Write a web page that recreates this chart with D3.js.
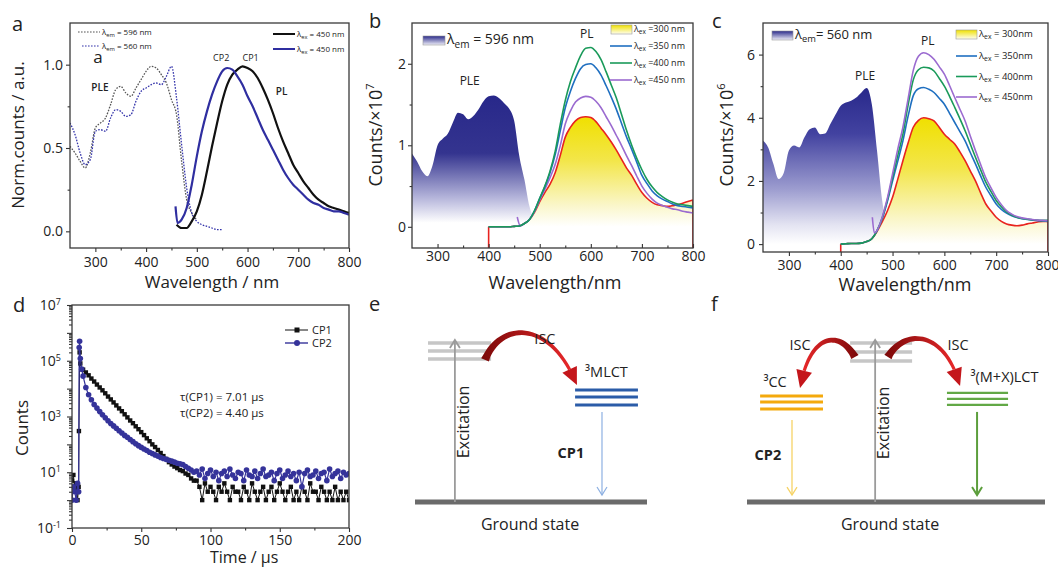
<!DOCTYPE html>
<html>
<head>
<meta charset="utf-8">
<script src="https://cdn.jsdelivr.net/npm/d3@7"></script>
<style>
  body { margin: 0; background: #fff; }
  svg { font-family: "Open Sans", sans-serif; }
</style>
</head>
<body>
<svg id="fig" width="1058" height="570"></svg>
<script>
// ---------- panel a : normalised PLE / PL ----------
var wlA596 = d3.range(250, 501, 10);
var pleA596 = [0.51, 0.47, 0.42, 0.38, 0.47, 0.62, 0.65, 0.68, 0.76, 0.85, 0.87, 0.83, 0.81, 0.86, 0.91, 0.96, 0.99, 0.98, 0.94, 0.89, 0.79, 0.70, 0.42, 0.19, 0.11, 0.07];
var wlA560 = d3.range(250, 551, 10);
var pleA560 = [0.65, 0.58, 0.47, 0.40, 0.43, 0.60, 0.61, 0.60, 0.68, 0.73, 0.72, 0.69, 0.70, 0.78, 0.84, 0.86, 0.88, 0.89, 0.88, 0.93, 0.99, 0.80, 0.52, 0.26, 0.11, 0.06, 0.04, 0.03, 0.02, 0.01, 0.01];
var wlA_cp1 = d3.range(460, 801, 10);
var plA_cp1 = [0.04, 0.02, 0.02, 0.06, 0.12, 0.22, 0.36, 0.51, 0.65, 0.78, 0.88, 0.94, 0.97, 0.99, 0.98, 0.96, 0.92, 0.86, 0.79, 0.71, 0.62, 0.54, 0.47, 0.40, 0.35, 0.30, 0.26, 0.22, 0.19, 0.17, 0.15, 0.14, 0.13, 0.12, 0.11];
var wlA_cp2 = [458, 462].concat(d3.range(470, 801, 10));
var plA_cp2 = [0.15, 0.05, 0.07, 0.14, 0.28, 0.45, 0.60, 0.72, 0.82, 0.90, 0.96, 0.98, 0.97, 0.93, 0.88, 0.81, 0.75, 0.68, 0.61, 0.55, 0.49, 0.43, 0.37, 0.32, 0.28, 0.25, 0.22, 0.19, 0.17, 0.16, 0.14, 0.13, 0.12, 0.12, 0.11, 0.10];

// ---------- panel b : CP1, counts x10^7 ----------
var wlB_ple = d3.range(250, 491, 10);
var pleB = [0.90, 0.80, 0.68, 0.62, 0.75, 1.00, 1.08, 1.14, 1.28, 1.40, 1.38, 1.32, 1.36, 1.44, 1.54, 1.60, 1.61, 1.58, 1.52, 1.45, 1.30, 0.87, 0.58, 0.25, 0.09];
var wlB_pl = d3.range(400, 801, 10);
var baseB = [0, 0, 0, 0, 0, 0.005, 0.01];
var plB300 = baseB.concat([0.04, 0.09, 0.18, 0.31, 0.42, 0.52, 0.66, 0.87, 1.10, 1.22, 1.30, 1.34, 1.35, 1.34, 1.29, 1.21, 1.13, 1.04, 0.94, 0.83, 0.72, 0.63, 0.52, 0.42, 0.35, 0.30, 0.27, 0.26, 0.25, 0.26, 0.27, 0.29, 0.31, 0.33]);
var plB350 = baseB.concat([0.04, 0.09, 0.20, 0.35, 0.49, 0.66, 0.88, 1.17, 1.46, 1.66, 1.82, 1.94, 1.99, 2.00, 1.95, 1.86, 1.73, 1.59, 1.44, 1.27, 1.10, 0.95, 0.79, 0.63, 0.53, 0.44, 0.38, 0.34, 0.31, 0.28, 0.26, 0.25, 0.24, 0.23]);
var plB400 = baseB.concat([0.04, 0.09, 0.20, 0.35, 0.50, 0.68, 0.92, 1.25, 1.55, 1.78, 1.95, 2.10, 2.19, 2.20, 2.15, 2.05, 1.90, 1.74, 1.58, 1.38, 1.18, 1.00, 0.84, 0.70, 0.58, 0.49, 0.42, 0.37, 0.33, 0.30, 0.28, 0.27, 0.26, 0.25]);
var wlB_450 = [456, 462].concat(d3.range(470, 801, 10));
var plB450 = [0.12, 0.01, 0.04, 0.09, 0.19, 0.33, 0.46, 0.60, 0.76, 0.99, 1.26, 1.42, 1.53, 1.58, 1.60, 1.59, 1.54, 1.46, 1.35, 1.24, 1.12, 1.00, 0.87, 0.75, 0.62, 0.50, 0.41, 0.34, 0.29, 0.26, 0.24, 0.22, 0.21, 0.19, 0.18, 0.17];

// ---------- panel c : CP2, counts x10^6 ----------
var wlC_ple = d3.range(250, 491, 10);
var pleC = [3.27, 3.06, 2.54, 2.06, 2.25, 2.96, 3.12, 3.06, 3.38, 3.64, 3.69, 3.48, 3.50, 3.80, 4.10, 4.38, 4.48, 4.54, 4.64, 4.80, 4.94, 4.43, 2.96, 1.38, 0.60];
var wlC_pl = d3.range(400, 801, 10);
var baseC = [0, 0.01, 0.02, 0.02, 0.03, 0.08, 0.17];
var plC300 = baseC.concat([0.40, 0.70, 1.05, 1.48, 2.05, 2.64, 3.20, 3.70, 3.92, 4.00, 3.97, 3.90, 3.70, 3.48, 3.32, 3.17, 2.92, 2.64, 2.32, 2.00, 1.62, 1.27, 1.05, 0.85, 0.72, 0.64, 0.60, 0.58, 0.60, 0.64, 0.67, 0.70, 0.72, 0.72]);
var plC350 = baseC.concat([0.42, 0.80, 1.35, 2.00, 2.62, 3.27, 4.05, 4.70, 4.92, 4.96, 4.90, 4.80, 4.62, 4.43, 4.14, 3.85, 3.56, 3.27, 2.90, 2.54, 2.16, 1.80, 1.53, 1.27, 1.10, 0.98, 0.90, 0.84, 0.80, 0.78, 0.76, 0.74, 0.73, 0.72]);
var plC400 = baseC.concat([0.43, 0.83, 1.40, 2.10, 2.80, 3.48, 4.40, 5.20, 5.52, 5.60, 5.58, 5.48, 5.25, 5.00, 4.68, 4.33, 3.97, 3.59, 3.17, 2.75, 2.35, 1.96, 1.66, 1.38, 1.18, 1.02, 0.92, 0.85, 0.81, 0.79, 0.77, 0.76, 0.75, 0.75]);
var wlC_450 = [461, 465].concat(d3.range(470, 801, 10));
var plC450 = [0.85, 0.35, 0.43, 0.85, 1.45, 2.22, 3.00, 3.70, 4.60, 5.50, 5.95, 6.06, 6.00, 5.85, 5.62, 5.38, 5.02, 4.64, 4.27, 3.90, 3.42, 2.96, 2.52, 2.10, 1.78, 1.48, 1.25, 1.06, 0.95, 0.87, 0.83, 0.80, 0.78, 0.76, 0.75, 0.74];

// ---------- panel d : decay curves ----------
var tCP1 = [0, 1, 2, 3, 4, 4.8, 5, 5.5, 6, 7].concat(d3.range(8, 201, 2));
var cCP1 = [5, 8, 2, 4, 1, 3, 300, 200000, 80000, 50000,
  48000, 38000, 30000, 23000, 18000, 14000, 11000, 8700, 6800, 5200,
  4100, 3200, 2500, 1950, 1550, 1200, 930, 720, 575, 445,
  350, 275, 215, 165, 130, 100, 80, 63, 49, 38,
  30, 23, 19, 16, 14, 12, 11, 9, 8, 6, 5, 5,
  3, 1, 4, 2, 3, 2, 1, 3, 2, 4, 2, 1, 3, 2, 2, 1, 3, 2, 1, 4,
  2, 1, 2, 3, 1, 2, 3, 1, 2, 4, 2, 1, 2, 3, 1, 2, 1, 3, 2, 1,
  4, 2, 2, 1, 3, 2, 1, 2, 1, 3, 1, 2, 1, 2, 1];
var tCP2 = [0, 1, 2, 3, 4, 4.8, 5.2, 5.5, 6, 7].concat(d3.range(8, 201, 2));
var cCP2 = [1, 3, 2, 1, 4, 2, 300000, 500000, 120000, 50000,
  28000, 11000, 6000, 4000, 2700, 2000, 1500, 1150, 900, 700,
  560, 460, 380, 310, 255, 210, 180, 150, 125, 105,
  90, 78, 68, 60, 52, 47, 42, 38, 34, 31,
  29, 27, 25, 23, 21, 20, 19, 16, 14, 12, 10, 11,
  8, 13, 6, 9, 12, 7, 10, 5, 9, 11, 7, 13, 8, 6, 10, 9, 5, 12, 8, 7,
  11, 6, 9, 13, 7, 8, 10, 5, 9, 12, 6, 8, 11, 7, 9, 5, 10, 3, 9, 12,
  7, 8, 11, 6, 9, 10, 5, 13, 7, 9, 11, 6, 10, 8, 9];

// ---------- panels e, f : energy level schemes (x and energy in 0..1) ----------
var levelsE = [
  { x0: 0.056, x1: 0.328, e: [0.981, 0.932, 0.883], color: "#c6c6c6", w: 3.5 },
  { x0: 0.690, x1: 0.961, e: [0.691, 0.648, 0.599], color: "#2b5ca8", w: 3 }
];
var arrowsE = [
  { x: 0.172, from: 0, to: 1.0, color: "#9b9b9b", w: 1.8 },
  { x: 0.806, from: 0.556, to: 0.043, color: "#8db0e2", w: 1.2 }
];
var iscE = [[[0.302, 0.877], [0.366, 1.111], [0.582, 1.136], [0.698, 0.722]]];
var levelsF = [
  { x0: 0.346, x1: 0.554, e: [0.981, 0.926, 0.870], color: "#c6c6c6", w: 3.5 },
  { x0: 0.044, x1: 0.255, e: [0.654, 0.617, 0.574], color: "#f4a90c", w: 3 },
  { x0: 0.671, x1: 0.876, e: [0.673, 0.636, 0.599], color: "#62a846", w: 2.2 }
];
var arrowsF = [
  { x: 0.430, from: 0, to: 1.0, color: "#9b9b9b", w: 1.8 },
  { x: 0.151, from: 0.506, to: 0.043, color: "#f6d365", w: 1.3 },
  { x: 0.772, from: 0.556, to: 0.043, color: "#5c9e3c", w: 2 }
];
var iscF = [
  [[0.362, 0.895], [0.312, 1.062], [0.211, 1.049], [0.178, 0.704]],
  [[0.473, 0.895], [0.530, 1.074], [0.664, 1.062], [0.715, 0.716]]
];

var svg = d3.select("#fig");
var defs = svg.append("defs");
var clipN = 0;

function grad(id, stops, box) {
  var g = defs.append("linearGradient").attr("id", id);
  if (box) g.attr("gradientUnits", "userSpaceOnUse").attr("x1", 0).attr("x2", 0).attr("y1", box[0]).attr("y2", box[1]);
  else g.attr("x1", 0).attr("y1", 0).attr("x2", 0).attr("y2", 1);
  stops.forEach(function (s) { g.append("stop").attr("offset", s[0]).attr("stop-color", s[1]); });
}
grad("swBlue", [[0, "#2a2a8a"], [1, "#eeeef8"]]);
grad("swYellow", [[0, "#efe000"], [1, "#fffef0"]]);
var redG = defs.append("linearGradient").attr("id", "redR");
redG.append("stop").attr("offset", 0).attr("stop-color", "#7a0808");
redG.append("stop").attr("offset", 1).attr("stop-color", "#e8282a");
var redL = defs.append("linearGradient").attr("id", "redL");
redL.append("stop").attr("offset", 0).attr("stop-color", "#e8282a");
redL.append("stop").attr("offset", 1).attr("stop-color", "#7a0808");

function makePanel(box, xd, yd, log) {
  var p = { box: box, g: svg.append("g") };
  p.x = d3.scaleLinear().domain(xd).range([box.l, box.r]);
  p.y = (log ? d3.scaleLog() : d3.scaleLinear()).domain(yd).range([box.b, box.t]);
  var id = "clip" + (++clipN);
  defs.append("clipPath").attr("id", id).append("rect")
    .attr("x", box.l).attr("y", box.t).attr("width", box.r - box.l).attr("height", box.b - box.t);
  p.plot = p.g.append("g").attr("clip-path", "url(#" + id + ")");
  return p;
}

function addAxes(p, o) {
  var b = p.box;
  var gx = p.g.append("g").attr("transform", "translate(0," + b.b + ")");
  gx.append("g").call(d3.axisBottom(p.x).tickValues(o.xMinor).tickSize(o.xTick * 0.6).tickFormat(""));
  gx.append("g").call(d3.axisBottom(p.x).tickValues(o.xMajor).tickSize(o.xTick).tickPadding(o.xPad).tickFormat(d3.format("d")));
  var gy = p.g.append("g").attr("transform", "translate(" + b.l + ",0)");
  gy.append("g").call(d3.axisLeft(p.y).tickValues(o.yMinor).tickSize(o.yTick * 0.6).tickFormat(""));
  p.yMajor = gy.append("g").call(d3.axisLeft(p.y).tickValues(o.yMajor).tickSize(o.yTick).tickPadding(o.yPad).tickFormat(o.yFmt || d3.format("d")));
  p.g.selectAll(".domain").remove();
  p.g.selectAll(".tick line").attr("stroke", "#333").attr("stroke-width", 1.1);
  p.g.selectAll(".tick text").attr("font-size", 14).attr("fill", "#222").attr("font-family", "Open Sans, sans-serif");
}

function frame(p) {
  var b = p.box;
  p.g.append("rect").attr("x", b.l).attr("y", b.t).attr("width", b.r - b.l).attr("height", b.b - b.t)
    .attr("fill", "none").attr("stroke", "#3a3a3a").attr("stroke-width", 1.3);
}

function pairs(xs, ys) { return xs.map(function (v, i) { return [v, ys[i]]; }); }

function drawLine(p, xs, ys, color, width, dash) {
  return p.plot.append("path").datum(pairs(xs, ys))
    .attr("fill", "none").attr("stroke", color).attr("stroke-width", width)
    .attr("stroke-dasharray", dash || null).attr("stroke-linejoin", "round")
    .attr("d", d3.line().x(function (d) { return p.x(d[0]); }).y(function (d) { return p.y(d[1]); }).curve(d3.curveMonotoneX));
}

function drawArea(p, xs, ys, fill) {
  p.plot.append("path").datum(pairs(xs, ys)).attr("fill", fill)
    .attr("d", d3.area().x(function (d) { return p.x(d[0]); }).y0(p.y(0)).y1(function (d) { return p.y(d[1]); }).curve(d3.curveMonotoneX));
}

function edge(p, xv, y0, y1, color, width) {
  p.plot.append("line").attr("x1", p.x(xv)).attr("x2", p.x(xv)).attr("y1", p.y(y0)).attr("y2", p.y(y1))
    .attr("stroke", color).attr("stroke-width", width);
}

function label(g, x, y, txt, o) {
  o = o || {};
  return g.append("text").attr("x", x).attr("y", y).attr("font-size", o.size || 12)
    .attr("font-weight", o.weight || null).attr("text-anchor", o.anchor || "start")
    .attr("fill", o.color || "#222").text(txt);
}

function lam(g, x, y, sub, rest, size) {
  var t = g.append("text").attr("x", x).attr("y", y).attr("font-size", size).attr("fill", "#222");
  t.append("tspan").text("λ");
  t.append("tspan").attr("font-size", size * 0.72).attr("dy", size * 0.25).text(sub);
  t.append("tspan").attr("dy", -size * 0.25).text(rest);
  return t;
}

function yTitle(g, x, y, txt, size, sup) {
  var t = g.append("text").attr("transform", "translate(" + x + "," + y + ") rotate(-90)")
    .attr("text-anchor", "middle").attr("font-size", size).attr("fill", "#222").text(txt);
  if (sup) t.append("tspan").attr("font-size", size * 0.62).attr("dy", -size * 0.45).text(sup);
  return t;
}

function swatch(g, x, y, w, h, fill) {
  g.append("rect").attr("x", x).attr("y", y).attr("width", w).attr("height", h)
    .attr("fill", fill).attr("stroke", "#9a9a9a").attr("stroke-width", 0.6);
}

function legLine(g, x0, x1, y, color, width, dash) {
  g.append("line").attr("x1", x0).attr("x2", x1).attr("y1", y).attr("y2", y)
    .attr("stroke", color).attr("stroke-width", width).attr("stroke-dasharray", dash || null);
}

// ===== panel a =====
var pa = makePanel({ l: 70, r: 349, t: 23, b: 248 }, [250, 800], [-0.1, 1.25]);
addAxes(pa, { xMajor: d3.range(300, 801, 100), xMinor: d3.range(350, 800, 100), xTick: 4, xPad: 5,
  yMajor: [0, 0.5, 1.0], yMinor: [0.25, 0.75], yTick: 4, yPad: 3, yFmt: d3.format(".1f") });
drawLine(pa, wlA596, pleA596, "#555", 1.3, "1.6,1.4");
drawLine(pa, wlA560, pleA560, "#3333aa", 1.3, "1.6,1.4");
drawLine(pa, wlA_cp1, plA_cp1, "#111", 2.2);
drawLine(pa, wlA_cp2, plA_cp2, "#2f2ea0", 2.2);
frame(pa);
label(pa.g, pa.x(309), pa.y(0.84), "PLE", { size: 10, weight: 600, anchor: "middle" });
label(pa.g, pa.x(305), pa.y(1.01), "a", { size: 17, anchor: "middle" });
label(pa.g, pa.x(548), pa.y(1.02), "CP2", { size: 9, anchor: "middle" });
label(pa.g, pa.x(606), pa.y(1.02), "CP1", { size: 9, anchor: "middle" });
label(pa.g, pa.x(667), pa.y(0.82), "PL", { size: 10, weight: 600, anchor: "middle" });
legLine(pa.g, 78, 100, 32, "#555", 1.2, "1.6,1.4");
lam(pa.g, 102, 35, "em", " = 596 nm", 8);
legLine(pa.g, 82, 100, 46, "#3333aa", 1.2, "1.6,1.4");
lam(pa.g, 102, 49, "em", " = 560 nm", 8);
legLine(pa.g, 273, 295, 34, "#111", 2);
lam(pa.g, 297, 37, "ex", " = 450 nm", 8);
legLine(pa.g, 273, 295, 49, "#2f2ea0", 2);
lam(pa.g, 297, 52, "ex", " = 450 nm", 8);
label(svg, 212, 288, "Wavelength / nm", { size: 17, anchor: "middle" });
yTitle(svg, 24, 135, "Norm.counts / a.u.", 17);
label(svg, 12, 31, "a", { size: 20 });

// ===== panel b =====
var pb = makePanel({ l: 412, r: 693, t: 23, b: 248 }, [250, 800], [-0.26, 2.5]);
grad("pleB", [[0, "#28288a"], [0.45, "#34348f"], [0.8, "#b4b4da"], [1, "#ffffff"]], [pb.y(1.6), pb.y(0.05)]);
grad("ylwB", [[0, "#f0e000"], [0.4, "#f3e64a"], [0.8, "#faf6c8"], [1, "#ffffff"]], [pb.y(1.35), pb.y(0)]);
addAxes(pb, { xMajor: d3.range(300, 801, 100), xMinor: d3.range(350, 800, 100), xTick: -4, xPad: 3,
  yMajor: [0, 1, 2], yMinor: [0.5, 1.5], yTick: 4, yPad: 2 });
drawArea(pb, wlB_ple, pleB, "url(#pleB)");
drawArea(pb, wlB_pl, plB300, "url(#ylwB)");
drawLine(pb, wlB_pl, plB300, "#e8231f", 1.6);
edge(pb, 400, -0.26, 0, "#e8231f", 1.6);
edge(pb, 800, -0.26, 0.33, "#e8231f", 1.6);
drawLine(pb, wlB_450, plB450, "#9b6bd0", 1.6);
drawLine(pb, wlB_pl, plB350, "#1f6fc0", 1.6);
drawLine(pb, wlB_pl, plB400, "#1a9a5a", 1.6);
frame(pb);
label(pb.g, pb.x(363), pb.y(1.74), "PLE", { size: 12, anchor: "middle" });
label(pb.g, pb.x(592), pb.y(2.32), "PL", { size: 12, anchor: "middle" });
swatch(pb.g, 423, 36, 22, 9, "url(#swBlue)");
lam(pb.g, 447, 44, "em", " = 596 nm", 14);
swatch(pb.g, 611, 25, 21, 9, "url(#swYellow)");
lam(pb.g, 634, 32, "ex", " =300 nm", 9);
[["#1f6fc0", " =350 nm"], ["#1a9a5a", " =400 nm"], ["#9b6bd0", " =450 nm"]].forEach(function (s, i) {
  legLine(pb.g, 610, 632, 46 + i * 17, s[0], 1.6);
  lam(pb.g, 634, 49 + i * 17, "ex", s[1], 9);
});
label(svg, 555, 289, "Wavelength/nm", { size: 18, anchor: "middle" });
yTitle(svg, 382, 135, "Counts/×10", 18, "7");
label(svg, 369, 28, "b", { size: 20 });

// ===== panel c =====
var pc = makePanel({ l: 763, r: 1048, t: 23, b: 252 }, [250, 800], [-0.25, 7.0]);
grad("pleC", [[0, "#28288a"], [0.3, "#4242a0"], [0.65, "#9c9ccf"], [0.88, "#e4e4f2"], [1, "#ffffff"]], [pc.y(5), pc.y(0)]);
grad("ylwC", [[0, "#f0e000"], [0.4, "#f3e64a"], [0.8, "#faf6c8"], [1, "#ffffff"]], [pc.y(4), pc.y(0)]);
addAxes(pc, { xMajor: d3.range(300, 801, 100), xMinor: d3.range(350, 800, 100), xTick: 4, xPad: 4,
  yMajor: [0, 2, 4, 6], yMinor: [1, 3, 5], yTick: 4, yPad: 4 });
drawArea(pc, wlC_ple, pleC, "url(#pleC)");
drawArea(pc, wlC_pl, plC300, "url(#ylwC)");
drawLine(pc, wlC_pl, plC300, "#e8231f", 1.6);
edge(pc, 400, -0.25, 0, "#e8231f", 1.6);
edge(pc, 800, -0.25, 0.72, "#e8231f", 1.6);
drawLine(pc, wlC_pl, plC350, "#1f6fc0", 1.6);
drawLine(pc, wlC_pl, plC400, "#1a9a5a", 1.6);
drawLine(pc, wlC_450, plC450, "#9b6bd0", 1.6);
frame(pc);
label(pc.g, pc.x(568), pc.y(6.29), "PL", { size: 12, anchor: "middle" });
label(pc.g, pc.x(447), pc.y(5.2), "PLE", { size: 12, anchor: "middle" });
swatch(pc.g, 772, 31, 21, 9, "url(#swBlue)");
lam(pc.g, 795, 39, "em", "= 560 nm", 13);
swatch(pc.g, 956, 30, 21, 9, "url(#swYellow)");
lam(pc.g, 979, 37, "ex", " = 300nm", 9.5);
[["#1f6fc0", " = 350nm"], ["#1a9a5a", " = 400nm"], ["#9b6bd0", " = 450nm"]].forEach(function (s, i) {
  legLine(pc.g, 956, 977, 56 + i * 20.5, s[0], 1.6);
  lam(pc.g, 979, 59 + i * 20.5, "ex", s[1], 9.5);
});
// the last tick label sits on the right edge of the figure, as in the original
pc.g.selectAll(".tick text").filter(function (d) { return d === 800; }).attr("text-anchor", "end").attr("dx", 11);
label(svg, 905, 291, "Wavelength/nm", { size: 18, anchor: "middle" });
yTitle(svg, 733, 135, "Counts/×10", 18, "6");
label(svg, 712, 28, "c", { size: 20 });

// ===== panel d =====
var pd = makePanel({ l: 72, r: 349, t: 305, b: 528 }, [0, 200], [0.1, 1e7], true);
var minorLog = [];
d3.range(-1, 7).forEach(function (k) { d3.range(2, 10).forEach(function (m) { minorLog.push(m * Math.pow(10, k)); }); });
addAxes(pd, { xMajor: d3.range(0, 201, 50), xMinor: d3.range(25, 200, 50), xTick: 4, xPad: 3,
  yMajor: d3.range(-1, 8).map(function (k) { return Math.pow(10, k); }), yMinor: minorLog, yTick: 5, yPad: 6,
  yFmt: function () { return ""; } });
pd.yMajor.selectAll(".tick text").each(function (d) {
  var k = Math.round(Math.log10(d)), t = d3.select(this);
  if (k % 2 === 0) { t.remove(); return; }
  t.text("10").append("tspan").attr("font-size", 9).attr("dy", "-0.55em").text(k);
});
var lineD = d3.line().x(function (d) { return pd.x(d[0]); }).y(function (d) { return pd.y(d[1]); });
pd.plot.append("path").datum(pairs(tCP1, cCP1)).attr("fill", "none").attr("stroke", "#111").attr("stroke-width", 1).attr("d", lineD);
pd.plot.selectAll("rect.cp1").data(pairs(tCP1, cCP1)).enter().append("rect").attr("class", "cp1")
  .attr("x", function (d) { return pd.x(d[0]) - 2.2; }).attr("y", function (d) { return pd.y(d[1]) - 2.2; })
  .attr("width", 4.4).attr("height", 4.4).attr("fill", "#111");
pd.plot.append("path").datum(pairs(tCP2, cCP2)).attr("fill", "none").attr("stroke", "#35339a").attr("stroke-width", 1.2).attr("d", lineD);
pd.plot.selectAll("circle.cp2").data(pairs(tCP2, cCP2)).enter().append("circle").attr("class", "cp2")
  .attr("cx", function (d) { return pd.x(d[0]); }).attr("cy", function (d) { return pd.y(d[1]); })
  .attr("r", 2.8).attr("fill", "#35339a");
frame(pd);
legLine(pd.g, 285, 308, 330, "#111", 1);
pd.g.append("rect").attr("x", 294.5).attr("y", 327.5).attr("width", 5).attr("height", 5).attr("fill", "#111");
label(pd.g, 312, 334, "CP1", { size: 11 });
legLine(pd.g, 285, 308, 343, "#35339a", 1.4);
pd.g.append("circle").attr("cx", 297).attr("cy", 343).attr("r", 3).attr("fill", "#35339a");
label(pd.g, 312, 347, "CP2", { size: 11 });
label(pd.g, 180, 401, "τ(CP1) = 7.01 µs", { size: 11.5 });
label(pd.g, 180, 417, "τ(CP2) = 4.40 µs", { size: 11.5 });
label(svg, 210, 563, "Time / µs", { size: 16 });
svg.select("text:last-child").attr("text-anchor", "middle");
yTitle(svg, 28, 428, "Counts", 17);
label(svg, 13, 312, "d", { size: 20 });

// ===== panels e, f : schemes =====
function iscArrow(g, P, fill) {
  function bez(t) {
    var u = 1 - t;
    return [0, 1].map(function (i) { return u * u * u * P[0][i] + 3 * u * u * t * P[1][i] + 3 * u * t * t * P[2][i] + t * t * t * P[3][i]; });
  }
  var tip = P[3], tEnd = 1;
  while (tEnd > 0 && Math.hypot(bez(tEnd)[0] - tip[0], bez(tEnd)[1] - tip[1]) < 17) tEnd -= 0.005;
  var n = 30, L = [], R = [];
  for (var i = 0; i <= n; i++) {
    var t = tEnd * i / n, a = bez(t), b = bez(t + 0.005), dx = b[0] - a[0], dy = b[1] - a[1], len = Math.hypot(dx, dy);
    var w = 4.2 - 2.6 * Math.sqrt(i / n);
    L.push([a[0] - dy / len * w, a[1] + dx / len * w]);
    R.push([a[0] + dy / len * w, a[1] - dx / len * w]);
  }
  g.append("path").attr("d", d3.line()(L.concat(R.reverse())) + "Z").attr("fill", fill);
  var base = bez(tEnd), hx = tip[0] - base[0], hy = tip[1] - base[1], hl = Math.hypot(hx, hy), hw = 8;
  g.append("path").attr("d", d3.line()([[base[0] - hy / hl * hw, base[1] + hx / hl * hw], tip, [base[0] + hy / hl * hw, base[1] - hx / hl * hw]]) + "Z")
    .attr("fill", "#c4161b");
}

function scheme(xr, yr, levels, arrows, iscs, fills) {
  var sx = d3.scaleLinear().domain([0, 1]).range(xr), sy = d3.scaleLinear().domain([0, 1]).range(yr);
  var g = svg.append("g");
  levels.forEach(function (lv) {
    lv.e.forEach(function (e) {
      g.append("line").attr("x1", sx(lv.x0)).attr("x2", sx(lv.x1)).attr("y1", sy(e)).attr("y2", sy(e))
        .attr("stroke", lv.color).attr("stroke-width", lv.w);
    });
  });
  g.append("line").attr("x1", sx(0)).attr("x2", sx(1)).attr("y1", sy(0)).attr("y2", sy(0))
    .attr("stroke", "#6b6b6b").attr("stroke-width", 5);
  arrows.forEach(function (a) {
    var x = sx(a.x), y0 = sy(a.from), y1 = sy(a.to), dir = y1 < y0 ? 1 : -1;
    g.append("line").attr("x1", x).attr("x2", x).attr("y1", y0).attr("y2", y1).attr("stroke", a.color).attr("stroke-width", a.w);
    g.append("path").attr("d", d3.line()([[x - 5, y1 + dir * 8], [x, y1], [x + 5, y1 + dir * 8]]))
      .attr("fill", "none").attr("stroke", a.color).attr("stroke-width", a.w);
  });
  iscs.forEach(function (c, i) {
    iscArrow(g, c.map(function (q) { return [sx(q[0]), sy(q[1])]; }), fills[i]);
  });
  return { g: g, sx: sx, sy: sy };
}

var se = scheme([415, 647], [502, 340], levelsE, arrowsE, iscE, ["url(#redR)"]);
label(se.g, se.sx(0.560), se.sy(0.975), "ISC", { size: 14.5, anchor: "middle" });
label(se.g, se.sx(0.733), se.sy(0.772), "³MLCT", { size: 14.5 });
label(se.g, se.sx(0.672), se.sy(0.272), "CP1", { size: 14.5, weight: 700, anchor: "middle" });
label(se.g, se.sx(0.496), se.sy(-0.173), "Ground state", { size: 16, anchor: "middle" });
se.g.append("text").attr("transform", "translate(" + se.sx(0.232) + "," + se.sy(0.494) + ") rotate(-90)")
  .attr("text-anchor", "middle").attr("font-size", 16).attr("fill", "#222").text("Excitation");
label(svg, 369, 311, "e", { size: 20 });

var sf = scheme([747, 1045], [502, 340], levelsF, arrowsF, iscF, ["url(#redL)", "url(#redR)"]);
label(sf.g, sf.sx(0.178), sf.sy(0.938), "ISC", { size: 14.5, anchor: "middle" });
label(sf.g, sf.sx(0.708), sf.sy(0.938), "ISC", { size: 14.5, anchor: "middle" });
label(sf.g, sf.sx(0.055), sf.sy(0.710), "³CC", { size: 14.5 });
label(sf.g, sf.sx(0.750), sf.sy(0.741), "³(M+X)LCT", { size: 14.5 });
label(sf.g, sf.sx(0.070), sf.sy(0.259), "CP2", { size: 14.5, weight: 700, anchor: "middle" });
label(sf.g, sf.sx(0.480), sf.sy(-0.173), "Ground state", { size: 16, anchor: "middle" });
sf.g.append("text").attr("transform", "translate(" + sf.sx(0.478) + "," + sf.sy(0.488) + ") rotate(-90)")
  .attr("text-anchor", "middle").attr("font-size", 16).attr("fill", "#222").text("Excitation");
label(svg, 711, 311, "f", { size: 20 });
</script>
</body>
</html>
